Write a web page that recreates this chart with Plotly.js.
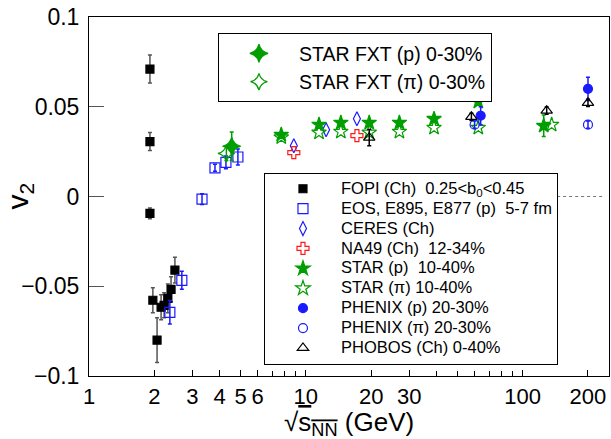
<!DOCTYPE html>
<html>
<head>
<meta charset="utf-8">
<script src="https://cdn.plot.ly/plotly-3.0.1.min.js"></script>
<style>html,body{margin:0;padding:0;background:#fff;}#chart{width:611px;height:439px;}</style>
</head>
<body>
<div id="chart"></div>
<script>
// ---- data ----
var fopiX = [1.91, 1.91, 1.91, 1.97, 2.06, 2.15, 2.22, 2.31, 2.39, 2.49];
var fopiY = [0.071, 0.0306, -0.0094, -0.0578, -0.080, -0.0617, -0.0606, -0.0567, -0.0517, -0.041];
var fopiE = [0.0078, 0.005, 0.003, 0.007, 0.0125, 0.007, 0.007, 0.008, 0.007, 0.0072];

var eosX = [2.36, 2.68, 3.32, 3.81, 4.28, 4.86];
var eosY = [-0.0645, -0.0467, -0.0015, 0.016, 0.019, 0.022];
var eosE = [0.0065, 0.005, 0.003, 0.002, 0.0035, 0.0045];

var ceresX = [8.8, 12.4, 17.2];
var ceresY = [0.0283, 0.0372, 0.0433];

var na49X = [8.8, 17.2];
var na49Y = [0.0244, 0.0339];

var starPX = [7.7, 11.5, 14.5, 19.6, 27, 39, 62.4, 125];
var starPY = [0.0344, 0.040, 0.0411, 0.0411, 0.0411, 0.0433, 0.0528, 0.0394];
var starPE = [0, 0, 0, 0, 0, 0, 0, 0.006];

var starPiX = [7.7, 11.5, 14.5, 19.6, 27, 39, 62.4, 136];
var starPiY = [0.0330, 0.0356, 0.0361, 0.0356, 0.0361, 0.0383, 0.0383, 0.0400];

var phenixPX = [64, 200];
var phenixPY = [0.045, 0.060];
var phenixPE = [0.005, 0.0065];

var phenixPiX = [60, 200];
var phenixPiY = [0.040, 0.040];
var phenixPiE = [0.002, 0.002];

var phobosX = [19.6, 58, 129, 200];
var phobosY = [0.0328, 0.0444, 0.0478, 0.0522];
var phobosE = [0.0045, 0.002, 0.002, 0.002];

var fxtPX = [4.55];
var fxtPY = [0.028];
var fxtPE = [0.008];

var fxtPiX = [4.3];
var fxtPiY = [0.024];
var fxtPiE = [0.004];

var xTickVals = [1, 2, 3, 4, 5, 6, 10, 20, 30, 100, 200];
var xTickText = ['1', '2', '3', '4', '5', '6', '10', '20', '30', '100', '200'];
var xMinorVals = [7, 8, 9, 40, 50, 60, 70, 80, 90];

// ---- styling ----
var GREEN = '#009e00', BLUE = '#1a1aff', RED = '#ff1a1a', BLACK = '#000000';
var FONT = 'Liberation Sans, Arial, Helvetica, sans-serif';
function lt(t) { return '<span style="font-size:16.5px">' + t + '</span>'; }

function tr(name, x, y, err, symbol, size, color, legend, errColor) {
  var t = {
    type: 'scatter', mode: 'markers', name: name, x: x, y: y, legend: legend,
    marker: {symbol: symbol, size: size, color: color, line: {color: color, width: 1.2}},
    hoverinfo: 'x+y'
  };
  if (err) {
    t.error_y = {type: 'data', array: err, visible: true, color: errColor || color, thickness: 1.5, width: 2};
  }
  return t;
}

var traces = [
  tr(lt('FOPI (Ch)  0.25&lt;b<sub>0</sub>&lt;0.45'), fopiX, fopiY, fopiE, 'square', 8, BLACK, 'legend2', '#555'),
  tr(lt('EOS, E895, E877 (p)  5-7 fm'), eosX, eosY, eosE, 'square-open', 10, BLUE, 'legend2'),
  tr(lt('CERES (Ch)'), ceresX, ceresY, null, 'diamond-tall-open', 10, BLUE, 'legend2'),
  tr(lt('NA49 (Ch)  12-34%'), na49X, na49Y, null, 'cross-open', 10, RED, 'legend2'),
  tr(lt('STAR (p)  10-40%'), starPX, starPY, starPE, 'star', 11, GREEN, 'legend2'),
  tr(lt('STAR (π) 10-40%'), starPiX, starPiY, null, 'star-open', 11, GREEN, 'legend2'),
  tr(lt('PHENIX (p) 20-30%'), phenixPX, phenixPY, phenixPE, 'circle', 9, BLUE, 'legend2'),
  tr(lt('PHENIX (π) 20-30%'), phenixPiX, phenixPiY, phenixPiE, 'circle-open', 9, BLUE, 'legend2'),
  tr(lt('PHOBOS (Ch) 0-40%'), phobosX, phobosY, phobosE, 'triangle-up-open', 10, BLACK, 'legend2'),
  tr('STAR FXT (p) 0-30%', fxtPX, fxtPY, fxtPE, 'star-diamond', 13, GREEN, 'legend'),
  tr('STAR FXT (π) 0-30%', fxtPiX, fxtPiY, fxtPiE, 'star-diamond-open', 12, GREEN, 'legend')
];

var layout = {
  width: 611, height: 439,
  margin: {l: 89, r: 2, t: 17, b: 63, pad: 0},
  paper_bgcolor: '#ffffff', plot_bgcolor: '#ffffff',
  font: {family: FONT, color: '#000'},
  showlegend: true,
  xaxis: {
    type: 'log', range: [0, Math.log10(250)],
    tickmode: 'array', tickvals: xTickVals, ticktext: xTickText,
    ticks: 'inside', ticklen: 6, tickcolor: '#000', tickwidth: 1,
    minor: {tickmode: 'array', tickvals: xMinorVals, ticks: 'inside', ticklen: 5, tickcolor: '#000', showgrid: false},
    showline: true, linecolor: '#000', linewidth: 1, mirror: true,
    showgrid: false, zeroline: false,
    tickfont: {size: 22, family: FONT}, ticklabelstandoff: 1
  },
  yaxis: {
    range: [-0.1, 0.1], tickmode: 'linear', tick0: 0, dtick: 0.05,
    ticks: 'inside', ticklen: 15, tickcolor: '#555', tickwidth: 1,
    showline: true, linecolor: '#000', linewidth: 1, mirror: true,
    showgrid: false, zeroline: false,
    tickfont: {size: 23, family: FONT}, ticklabelstandoff: 4
  },
  legend: {
    x: 0.248, y: 0.955, xanchor: 'left', yanchor: 'top',
    bgcolor: '#ffffff', bordercolor: '#000', borderwidth: 1,
    font: {size: 19.5, family: FONT, color: '#000'},
    itemwidth: 70, tracegroupgap: 0
  },
  legend2: {
    x: 0.3365, y: 0.566, xanchor: 'left', yanchor: 'top',
    bgcolor: '#ffffff', bordercolor: '#000', borderwidth: 1,
    font: {size: 13, family: FONT, color: '#000'},
    itemwidth: 66, tracegroupgap: 0
  },
  shapes: [
    {type: 'line', xref: 'x', yref: 'y', x0: 20, x1: 240, y0: 0, y1: 0,
     line: {color: '#777', width: 1, dash: 'dot'}, layer: 'below'}
  ],
  annotations: [
    {xref: 'paper', yref: 'paper', x: -0.1346, y: 0.5, xanchor: 'center', yanchor: 'middle',
     text: 'v<sub>2</sub>', textangle: -90, showarrow: false, font: {size: 30, family: FONT, color: '#000'}},
    {xref: 'paper', yref: 'paper', x: 0.5, y: -0.133, xanchor: 'center', yanchor: 'middle',
     text: '√<span style="text-decoration:overline">s<sub>NN</sub></span> (GeV)', showarrow: false,
     font: {size: 26, family: FONT, color: '#000'}}
  ]
};

Plotly.newPlot('chart', traces, layout, {displayModeBar: false, staticPlot: true});
</script>
</body>
</html>
